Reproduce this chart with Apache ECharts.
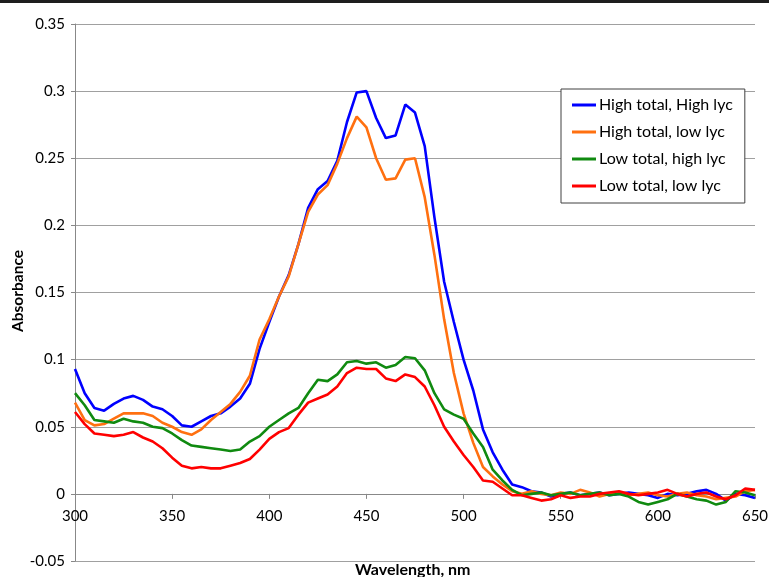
<!DOCTYPE html>
<html>
<head>
<meta charset="utf-8">
<script src="https://cdn.jsdelivr.net/npm/echarts@6/dist/echarts.min.js"></script>
<style>
html,body{margin:0;padding:0;background:#fff;}
#chart{width:769px;height:577px;}
</style>
</head>
<body>
<div id="chart"></div>
<script>
// Wavelengths (nm), 5 nm steps
const wavelengths = [];
for (let w = 300; w <= 650; w += 5) wavelengths.push(w);

const seriesNames = ["High total, High lyc", "High total, low lyc", "Low total, high lyc", "Low total, low lyc"];

const highTotalHighLyc = [
  0.093,0.075,0.064,0.062,0.067,0.071,0.073,0.070,0.065,0.063,
  0.058,0.051,0.050,0.054,0.058,0.060,0.065,0.071,0.082,0.108,
  0.128,0.147,0.163,0.186,0.213,0.227,0.233,0.248,0.277,0.299,
  0.300,0.280,0.265,0.267,0.290,0.284,0.259,0.206,0.158,0.128,
  0.100,0.077,0.048,0.031,0.018,0.007,0.005,0.002,0.001,-0.002,
  0.000,0.001,-0.001,0.000,0.001,-0.001,0.000,0.001,0.000,-0.001,
  -0.003,0.000,-0.001,0.000,0.002,0.003,0.000,-0.005,0.000,-0.001,
  -0.003
];
const highTotalLowLyc = [
  0.068,0.055,0.051,0.052,0.056,0.060,0.060,0.060,0.058,0.053,
  0.050,0.046,0.044,0.048,0.055,0.061,0.067,0.076,0.088,0.115,
  0.130,0.147,0.162,0.186,0.210,0.223,0.230,0.246,0.265,0.281,
  0.273,0.250,0.234,0.235,0.249,0.250,0.221,0.178,0.130,0.090,
  0.060,0.038,0.020,0.013,0.007,0.002,0.000,0.002,0.000,-0.001,
  0.001,0.000,0.003,0.001,-0.002,0.000,0.001,-0.001,0.000,0.001,
  -0.001,-0.002,0.000,0.001,-0.001,-0.002,-0.004,-0.003,-0.002,0.002,
  0.003
];
const lowTotalHighLyc = [
  0.075,0.066,0.055,0.054,0.053,0.056,0.054,0.053,0.050,0.049,
  0.045,0.040,0.036,0.035,0.034,0.033,0.032,0.033,0.039,0.043,
  0.050,0.055,0.060,0.064,0.075,0.085,0.084,0.089,0.098,0.099,
  0.097,0.098,0.094,0.096,0.102,0.101,0.092,0.075,0.063,0.059,
  0.056,0.045,0.035,0.018,0.010,0.003,-0.001,0.000,0.001,-0.001,
  0.000,0.001,-0.001,0.000,0.001,-0.001,0.000,-0.002,-0.006,-0.008,
  -0.006,-0.004,0.000,-0.002,-0.004,-0.005,-0.008,-0.006,0.002,0.001,
  -0.001
];
const lowTotalLowLyc = [
  0.061,0.052,0.045,0.044,0.043,0.044,0.046,0.042,0.039,0.034,
  0.027,0.021,0.019,0.020,0.019,0.019,0.021,0.023,0.026,0.033,
  0.041,0.046,0.049,0.059,0.068,0.071,0.074,0.080,0.090,0.094,
  0.093,0.093,0.086,0.084,0.089,0.087,0.080,0.066,0.050,0.039,
  0.029,0.020,0.010,0.009,0.004,-0.001,-0.001,-0.003,-0.005,-0.004,
  -0.001,-0.003,-0.002,-0.002,0.000,0.001,0.002,0.000,-0.001,0.000,
  0.001,0.003,0.000,-0.002,0.000,0.001,-0.002,-0.004,-0.001,0.004,
  0.003
];

const yTicks = ["-0.05","0","0.05","0.1","0.15","0.2","0.25","0.3","0.35"];
const xTicks = ["300","350","400","450","500","550","600","650"];

const colors = ["#0000ff", "#ff7010", "#108a10", "#ff0000"];
const allValues = [highTotalHighLyc, highTotalLowLyc, lowTotalHighLyc, lowTotalLowLyc];

const FONT = "Lato";
const Y_MIN = -0.05, Y_MAX = 0.35;
const GRID = { left: 75, right: 14, top: 24, bottom: 16 };
const plotHeight = 577 - GRID.top - GRID.bottom;
// lift the x axis so it sits on the zero line (Excel style)
const zeroOffset = -plotHeight * (0 - Y_MIN) / (Y_MAX - Y_MIN);

const chart = echarts.init(document.getElementById('chart'));
chart.setOption({
  animation: false,
  backgroundColor: '#fff',
  textStyle: { fontFamily: FONT },
  grid: Object.assign({ containLabel: false, outerBoundsMode: 'none' }, GRID),
  graphic: [
    { type: 'rect', left: 0, top: 0, shape: { width: 769, height: 3 }, style: { fill: '#1e1e1e' } },
    { type: 'text', left: 355, top: 562, style: { text: 'Wavelength, nm', font: 'bold 16px ' + FONT, fill: '#000' } },
    { type: 'text', x: 18, y: 291, rotation: Math.PI / 2,
      style: { text: 'Absorbance', font: 'bold 15.5px ' + FONT, fill: '#000', align: 'center', verticalAlign: 'middle' } }
  ],
  legend: {
    orient: 'vertical',
    left: 561, top: 89,
    padding: [8, 12, 9, 11],
    itemGap: 11,
    itemWidth: 24, itemHeight: 3,
    icon: 'rect',
    backgroundColor: '#fff',
    borderColor: '#404040', borderWidth: 1,
    textStyle: { fontFamily: FONT, fontSize: 16, color: '#000', padding: [0,0,0,-2] },
    data: seriesNames
  },
  xAxis: {
    type: 'value', min: 300, max: 650, interval: 50,
    position: 'bottom', offset: zeroOffset,
    axisLine: { onZero: false, lineStyle: { color: '#888', width: 1 } },
    axisTick: { show: true, length: 5, lineStyle: { color: '#888' } },
    axisLabel: { color: '#000', fontSize: 15, fontFamily: FONT, margin: 15,
      formatter: v => xTicks[Math.round((v - 300) / 50)] },
    splitLine: { show: false }
  },
  yAxis: {
    type: 'value', min: Y_MIN, max: Y_MAX, interval: 0.05,
    axisLine: { show: true, onZero: false, lineStyle: { color: '#888', width: 1 } },
    axisTick: { show: true, length: 4, lineStyle: { color: '#888' } },
    axisLabel: { color: '#000', fontSize: 15, fontFamily: FONT, margin: 10,
      formatter: v => yTicks[Math.round((v - Y_MIN) / 0.05)] },
    splitLine: { show: true, lineStyle: { color: '#a0a0a0', width: 1 } }
  },
  series: seriesNames.map((name, i) => ({
    name, type: 'line', showSymbol: false, symbol: 'none',
    color: colors[i],
    lineStyle: { width: 2.6, color: colors[i] },
    data: wavelengths.map((w, j) => [w, allValues[i][j]])
  }))
});
</script>
</body>
</html>
